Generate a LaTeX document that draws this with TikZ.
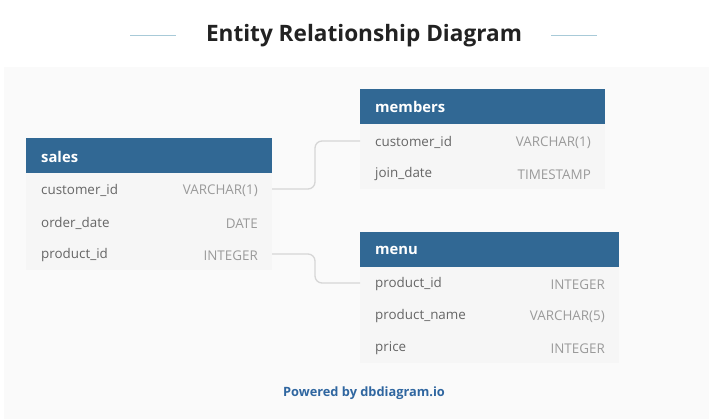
\documentclass[tikz,border=0pt]{standalone}
\usepackage{fontspec}
\setmainfont{Open Sans}
\definecolor{hdr}{HTML}{316894}
\definecolor{rowbg}{HTML}{F6F6F6}
\definecolor{panel}{HTML}{FAFAFA}
\definecolor{fld}{HTML}{666666}
\definecolor{typ}{HTML}{9A9A9A}
\definecolor{ttl}{HTML}{222222}
\definecolor{tline}{HTML}{A8CAD8}
\definecolor{conn}{HTML}{D6D6D6}
\definecolor{pw}{HTML}{2F66A0}
\begin{document}
\begin{tikzpicture}[x=1pt,y=-1pt,
  rowbox/.style={fill=rowbg,draw=none,anchor=north west,inner sep=0pt},
  fldtxt/.style={anchor=west,text=fld,inner sep=0pt,yshift=-1.5pt,font=\fontsize{13.4}{15}\selectfont},
  typtxt/.style={anchor=east,text=typ,inner sep=0pt,yshift=-1.5pt,font=\fontsize{13.4}{15}\selectfont},
  hdrtxt/.style={anchor=west,text=white,inner sep=0pt,yshift=-1pt,font=\fontsize{14.8}{16}\selectfont\bfseries},
  link/.style={draw=conn,line width=1.3pt,rounded corners=7pt}]
\useasboundingbox (0,0) rectangle (709,419);
\fill[white] (0,0) rectangle (709,419);
\fill[panel] (4,67) rectangle (709,419);
% title
\node[text=ttl,font=\fontsize{22.6}{26}\selectfont\bfseries] (title) at (364,36) {Entity Relationship Diagram};
\draw[tline,line width=1pt] (130,36) -- (176,36);
\draw[tline,line width=1pt] (551,36) -- (597,36);
% sales
\fill[hdr] (26,138) rectangle (272,173);
\node[rowbox,minimum width=246pt,minimum height=97pt] (salesbody) at (26,173) {};
\node[hdrtxt] (salesh) at (41,156) {sales};
\node[fldtxt] (s1) at (41,189) {customer\_id};
\node[typtxt] (s1t) at (258,189) {VARCHAR(1)};
\node[fldtxt] (s2) at (41,222) {order\_date};
\node[typtxt] (s2t) at (258,222) {DATE};
\node[fldtxt] (s3) at (41,254) {product\_id};
\node[typtxt] (s3t) at (258,254) {INTEGER};
\coordinate (sa) at (272,189);
\coordinate (sb) at (272,254);
% members
\fill[hdr] (360,89) rectangle (605,124);
\node[rowbox,minimum width=245pt,minimum height=65pt] (membody) at (360,124) {};
\node[hdrtxt] (memh) at (375,106) {members};
\node[fldtxt] (m1) at (375,141) {customer\_id};
\node[typtxt] (m1t) at (591,141) {VARCHAR(1)};
\node[fldtxt] (m2) at (375,173) {join\_date};
\node[typtxt] (m2t) at (591,173) {TIMESTAMP};
\coordinate (ma) at (360,141);
% menu
\fill[hdr] (360,232) rectangle (619,267);
\node[rowbox,minimum width=259pt,minimum height=96pt] (menubody) at (360,267) {};
\node[hdrtxt] (menuh) at (375,249) {menu};
\node[fldtxt] (n1) at (375,283) {product\_id};
\node[typtxt] (n1t) at (605,283) {INTEGER};
\node[fldtxt] (n2) at (375,315) {product\_name};
\node[typtxt] (n2t) at (605,315) {VARCHAR(5)};
\node[fldtxt] (n3) at (375,347) {price};
\node[typtxt] (n3t) at (605,347) {INTEGER};
\coordinate (na) at (360,283);
% links
\draw[link] (sa) -- (315,189) -- (315,141) -- (ma);
\draw[link] (sb) -- (315,254) -- (315,283) -- (na);
% footer
\node[text=pw,font=\fontsize{12.8}{15}\selectfont\bfseries] (pow) at (364,393) {Powered by dbdiagram.io};
\end{tikzpicture}
\end{document}
